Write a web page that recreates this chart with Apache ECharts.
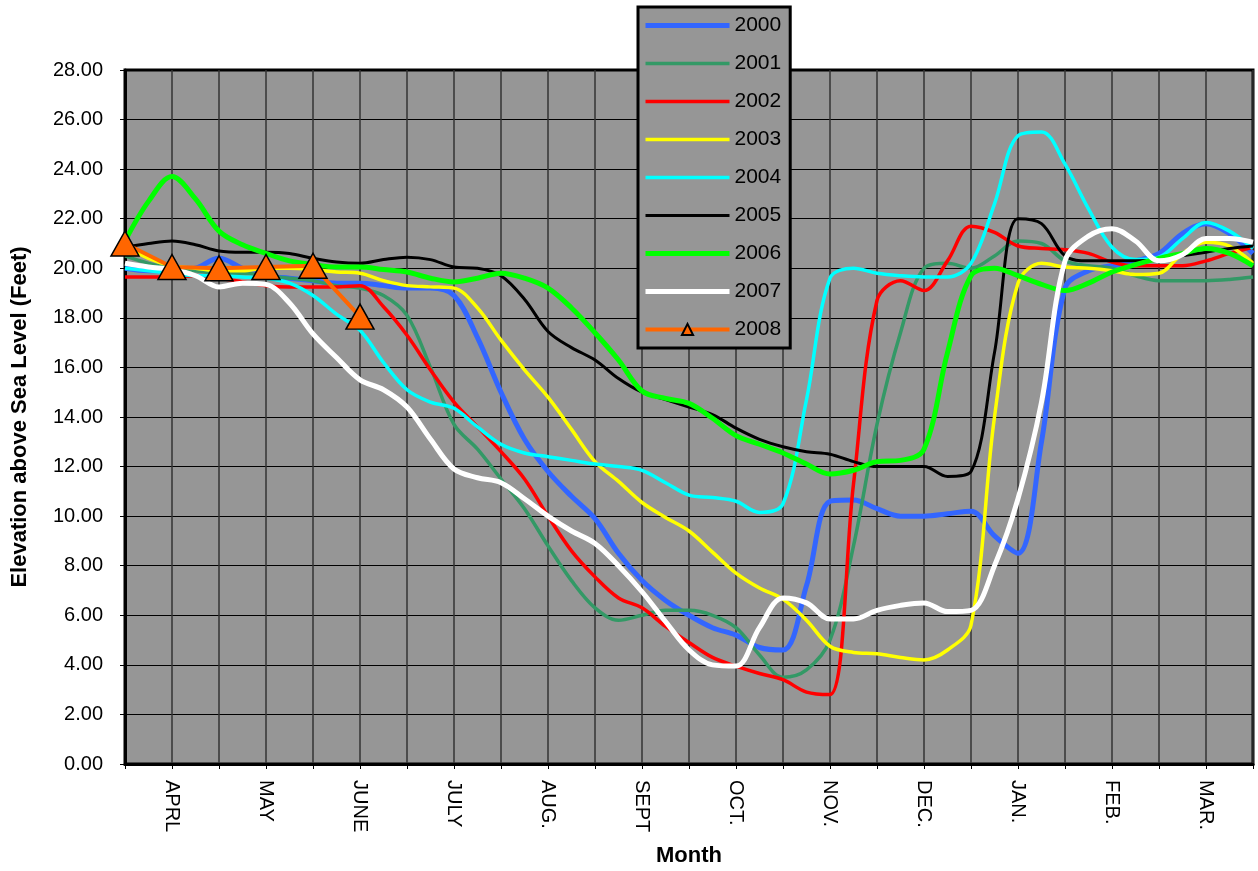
<!DOCTYPE html>
<html>
<head>
<meta charset="utf-8">
<script src="https://cdn.jsdelivr.net/npm/echarts@6/dist/echarts.min.js"></script>
<style>
  html, body { margin: 0; padding: 0; background: #fff; }
  #main { width: 1258px; height: 871px; }
</style>
</head>
<body>
<div id="main"></div>
<script>
// month names, one label every 4 quarter-month steps
var months = ['APRL', 'MAY', 'JUNE', 'JULY', 'AUG.', 'SEPT', 'OCT.', 'NOV.', 'DEC.', 'JAN.', 'FEB.', 'MAR.'];

// quarter-month samples (49 points, mid-March to mid-March)
var y2000 = [20.0, 19.9, 19.9, 20.0, 20.4, 20.0, 19.7, 19.6, 19.5, 19.4,
  19.4, 19.3, 19.2, 19.2, 18.9, 17.2, 15.0, 13.1, 11.8, 10.8,
  9.9, 8.5, 7.4, 6.6, 6.0, 5.5, 5.2, 4.7, 4.6, 7.2,
  10.6, 10.65, 10.3, 10.0, 10.0, 10.1, 10.2, 9.2, 8.5, 13.0,
  19.2, 19.9, 20.1, 20.3, 20.6, 21.4, 21.8, 21.4, 20.6];
var y2001 = [20.5, 20.2, 20.0, 19.9, 19.8, 19.8, 19.7, 19.6, 19.5, 19.3,
  19.2, 18.9, 18.1, 16.0, 13.7, 12.7, 11.5, 10.3, 8.8, 7.4,
  6.3, 5.8, 6.0, 6.2, 6.2, 6.0, 5.5, 4.4, 3.5, 3.8,
  5.0, 8.8, 13.7, 17.4, 20.0, 20.2, 20.0, 20.5, 21.1, 21.0,
  20.3, 20.1, 20.0, 19.7, 19.5, 19.5, 19.5, 19.55, 19.65];
var y2002 = [19.65, 19.65, 19.65, 19.7, 19.6, 19.45, 19.3, 19.25, 19.25, 19.25,
  19.3, 18.45, 17.3, 15.9, 14.6, 13.6, 12.6, 11.5, 10.0, 8.6,
  7.55, 6.7, 6.3, 5.55, 4.9, 4.3, 3.95, 3.65, 3.4, 2.9,
  2.8, 11.3, 18.7, 19.5, 19.1, 20.3, 21.7, 21.45, 20.9, 20.8,
  20.75, 20.6, 20.25, 20.1, 20.1, 20.1, 20.3, 20.6, 20.85];
var y2003 = [20.9, 20.4, 20.1, 20.0, 19.9, 19.9, 20.0, 20.0, 19.95, 19.85,
  19.8, 19.5, 19.3, 19.25, 19.2, 18.4, 17.1, 15.9, 14.8, 13.5,
  12.2, 11.4, 10.55, 9.95, 9.4, 8.55, 7.7, 7.1, 6.65, 5.8,
  4.75, 4.5, 4.45, 4.3, 4.2, 4.6, 5.6, 14.0, 19.4, 20.2,
  20.05, 20.0, 19.9, 19.75, 19.8, 20.6, 21.05, 20.9, 20.2];
var y2004 = [20.0, 19.9, 19.8, 19.7, 19.7, 19.65, 19.6, 19.4, 18.9, 18.15,
  17.5, 16.2, 15.1, 14.6, 14.35, 13.6, 12.9, 12.55, 12.4, 12.25,
  12.1, 12.0, 11.85, 11.35, 10.85, 10.75, 10.6, 10.15, 10.5, 14.7,
  19.6, 20.0, 19.8, 19.7, 19.65, 19.65, 20.2, 22.6, 25.35, 25.5,
  24.2, 22.4, 20.85, 20.35, 20.45, 21.2, 21.85, 21.5, 20.8];
var y2005 = [20.85, 21.0, 21.1, 20.95, 20.7, 20.65, 20.65, 20.6, 20.4, 20.25,
  20.2, 20.35, 20.45, 20.35, 20.05, 20.0, 19.7, 18.75, 17.45, 16.8,
  16.3, 15.55, 15.0, 14.7, 14.4, 14.1, 13.55, 13.1, 12.8, 12.6,
  12.5, 12.2, 12.0, 12.0, 12.0, 11.6, 11.8, 16.6, 22.0, 21.8,
  20.5, 20.3, 20.3, 20.3, 20.35, 20.5, 20.65, 20.8, 20.9];
var y2006 = [21.1, 22.7, 23.7, 22.8, 21.5, 20.95, 20.6, 20.3, 20.15, 20.05,
  20.05, 19.95, 19.85, 19.6, 19.45, 19.6, 19.8, 19.6, 19.2, 18.4,
  17.4, 16.3, 15.05, 14.75, 14.55, 13.95, 13.25, 12.9, 12.55, 12.1,
  11.7, 11.85, 12.2, 12.25, 12.7, 16.6, 19.7, 20.0, 19.7, 19.35,
  19.1, 19.4, 19.85, 20.15, 20.4, 20.6, 20.8, 20.6, 20.1];
var y2007 = [20.2, 20.05, 19.95, 19.7, 19.25, 19.4, 19.35, 18.6, 17.35, 16.4,
  15.5, 15.1, 14.4, 13.1, 11.9, 11.55, 11.35, 10.7, 10.0, 9.4,
  8.9, 8.0, 6.95, 5.75, 4.6, 4.0, 3.95, 5.5, 6.7, 6.5,
  5.85, 5.85, 6.2, 6.4, 6.5, 6.15, 6.2, 8.0, 10.7, 14.6,
  20.3, 21.3, 21.6, 21.1, 20.3, 20.55, 21.2, 21.2, 21.05];
// 2008 only has half-month readings so far
var y2008 = [21.0, null, 20.05, null, 20.0, null, 20.05, null, 20.1, null, 18.05];

var years = ['2000', '2001', '2002', '2003', '2004', '2005', '2006', '2007', '2008'];
var values = [y2000, y2001, y2002, y2003, y2004, y2005, y2006, y2007, y2008];
var colors = ['#3366FF', '#339966', '#FF0000', '#FFFF00', '#00FFFF', '#000000', '#00FF00', '#FFFFFF', '#FF6600'];
var widths = [5, 3.5, 3.5, 3.5, 3.5, 3, 5, 5, 4];

var categories = [];
for (var i = 0; i < 49; i++) {
  categories.push((i - 2) % 4 === 0 ? months[(i - 2) / 4] : '');
}

var chart = echarts.init(document.getElementById('main'), null, { renderer: 'canvas' });

var series = years.map(function (name, k) {
  var s = {
    name: name,
    type: 'line',
    data: values[k],
    smooth: 0.35,
    symbol: 'none',
    connectNulls: true,
    color: colors[k],
    lineStyle: { color: colors[k], width: widths[k] },
    emphasis: { disabled: true }
  };
  if (name === '2008') {
    s.symbol = 'triangle';
    s.symbolSize = [28, 25];
    s.showAllSymbol = true;
    s.clip = false;
    s.smooth = false;
    s.itemStyle = { color: '#FF6600', borderColor: '#000', borderWidth: 1.5 };
    s.z = 5;
  }
  return s;
});

var option = {
  animation: false,
  backgroundColor: '#ffffff',
  textStyle: { fontFamily: 'Liberation Sans, Arial, sans-serif' },
  grid: {
    left: 125, right: 5, top: 70, bottom: 107,
    outerBoundsMode: 'none',
    show: true,
    backgroundColor: '#969696',
    borderColor: '#000',
    borderWidth: 3
  },
  legend: {
    orient: 'vertical',
    left: 638,
    top: 7,
    padding: [8, 9, 8, 5],
    itemWidth: 84,
    itemHeight: 14,
    itemGap: 17,
    backgroundColor: '#969696',
    borderColor: '#000',
    borderWidth: 3,
    textStyle: { fontSize: 21, color: '#000', fontFamily: 'Liberation Sans, Arial, sans-serif' },
    data: years.map(function (y, k) {
      var item = { name: y, lineStyle: { width: widths[k] } };
      if (y !== '2008') item.itemStyle = { opacity: 0 };
      return item;
    })
  },
  xAxis: {
    type: 'category',
    data: categories,
    boundaryGap: false,
    name: 'Month',
    nameLocation: 'middle',
    nameGap: 81,
    nameTextStyle: { fontSize: 22, fontWeight: 'bold', color: '#000' },
    axisLine: { lineStyle: { color: '#000', width: 3 } },
    axisTick: {
      show: true, length: 5,
      interval: function (idx) { return idx % 2 === 0; },
      lineStyle: { color: '#000', width: 1 }
    },
    axisLabel: {
      interval: function (idx) { return (idx - 2) % 4 === 0; },
      rotate: -90,
      margin: 16,
      fontSize: 20,
      color: '#000'
    },
    splitLine: {
      show: true,
      interval: function (idx) { return idx % 2 === 0; },
      lineStyle: { color: '#333', width: 1.5 }
    }
  },
  yAxis: {
    type: 'value',
    min: 0, max: 28, interval: 2,
    name: 'Elevation above Sea Level (Feet)',
    nameLocation: 'middle',
    nameGap: 94,
    nameTextStyle: { fontSize: 22, fontWeight: 'bold', color: '#000' },
    axisLine: { show: true, lineStyle: { color: '#000', width: 3 } },
    axisTick: { show: true, length: 5, lineStyle: { color: '#000' } },
    axisLabel: {
      margin: 22, fontSize: 20, color: '#000',
      formatter: function (v) { return v.toFixed(2); }
    },
    splitLine: { show: true, lineStyle: { color: '#000', width: 1 } }
  },
  series: series
};

chart.setOption(option);
</script>
</body>
</html>
